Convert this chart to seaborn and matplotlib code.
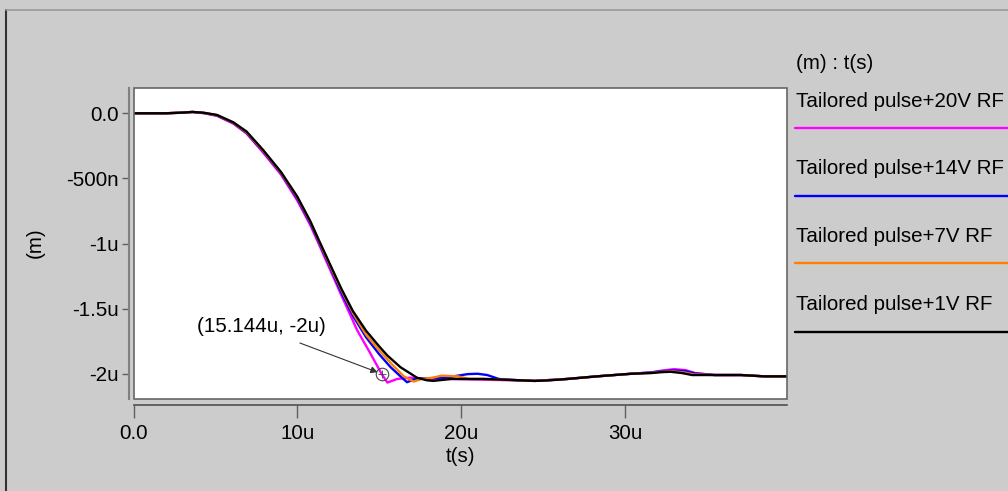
import matplotlib
matplotlib.use("Agg")
import matplotlib.pyplot as plt
from matplotlib.lines import Line2D
from matplotlib.patches import Rectangle
import pandas as pd
import seaborn as sns

# ---- data (time in microseconds, displacement in micrometres) ----
series_names = ["Tailored pulse+20V RF", "Tailored pulse+14V RF",
                "Tailored pulse+7V RF", "Tailored pulse+1V RF"]
series_colors = ["#ff00ff", "#0000ff", "#ff8000", "#000000"]

t_20v = [0, 2.0, 3.0, 3.6, 4.3, 5.1, 6.1, 6.9, 7.9, 9.0, 10.0, 10.8, 11.3, 12.0,
         12.7, 13.66, 14.4, 15.144, 15.5, 16.1, 16.9, 18.0, 19.4, 21.0, 23.0,
         24.5, 26.5, 28.3, 30.4, 31.6, 32.3, 33.0, 33.7, 34.3, 35.5, 37.1, 38.5, 39.9]
m_20v = [0, 0, 0.005, 0.01, 0.0, -0.02, -0.08, -0.155, -0.30, -0.47, -0.67, -0.86,
         -1.0, -1.2, -1.40, -1.667, -1.83, -2.0, -2.068, -2.04, -2.03, -2.04, -2.04,
         -2.045, -2.05, -2.055, -2.04, -2.02, -2.0, -1.99, -1.975, -1.965, -1.972,
         -1.995, -2.01, -2.01, -2.02, -2.02]

t_14v = [0, 2.0, 3.0, 3.6, 4.3, 5.1, 6.1, 6.9, 7.9, 9.0, 10.0, 10.8, 11.3, 12.0,
         12.7, 13.4, 14.2, 15.0, 15.7, 16.3, 16.7, 17.2, 18.0, 19.0, 19.8, 20.4,
         21.0, 21.6, 22.3, 23.5, 24.5, 26.5, 28.3, 30.4, 31.6, 32.3, 33.0, 33.7,
         34.3, 35.5, 37.1, 38.5, 39.9]
m_14v = [0, 0, 0.005, 0.01, 0.002, -0.017, -0.075, -0.15, -0.29, -0.46, -0.655,
         -0.845, -0.985, -1.18, -1.38, -1.555, -1.72, -1.85, -1.95, -2.02, -2.065,
         -2.04, -2.035, -2.03, -2.015, -2.003, -2.0, -2.01, -2.04, -2.05, -2.055,
         -2.04, -2.02, -2.0, -1.99, -1.98, -1.975, -1.98, -1.998, -2.01, -2.01,
         -2.02, -2.02]

t_7v = [0, 2.0, 3.0, 3.6, 4.3, 5.1, 6.1, 6.9, 7.9, 9.0, 10.0, 10.8, 11.3, 12.0,
        12.7, 13.4, 14.2, 15.0, 15.8, 16.5, 17.1, 17.6, 18.3, 18.8, 19.8, 20.5,
        21.4, 22.5, 23.5, 24.5, 26.5, 28.3, 30.4, 31.6, 32.3, 32.9, 33.6, 34.2,
        35.5, 37.1, 38.5, 39.9]
m_7v = [0, 0, 0.005, 0.01, 0.003, -0.015, -0.072, -0.145, -0.285, -0.455, -0.645,
        -0.835, -0.975, -1.17, -1.36, -1.535, -1.70, -1.82, -1.93, -2.02, -2.06,
        -2.04, -2.03, -2.015, -2.02, -2.04, -2.04, -2.045, -2.05, -2.055, -2.04,
        -2.02, -2.0, -1.993, -1.985, -1.982, -1.99, -2.005, -2.01, -2.01, -2.02,
        -2.02]

t_1v = [0, 2.0, 3.0, 3.6, 4.3, 5.1, 6.1, 6.9, 7.9, 9.0, 10.0, 10.8, 11.3, 12.0,
        12.7, 13.4, 14.2, 15.0, 15.5, 16.3, 17.3, 17.9, 18.3, 19.4, 20.5, 21.4,
        22.5, 23.5, 24.5, 25.5, 26.5, 28.3, 30.4, 31.6, 32.2, 32.8, 33.5, 34.1,
        35.5, 37.1, 38.5, 39.9]
m_1v = [0, 0, 0.005, 0.01, 0.004, -0.013, -0.07, -0.14, -0.28, -0.45, -0.64,
        -0.83, -0.97, -1.16, -1.35, -1.52, -1.67, -1.79, -1.86, -1.95, -2.03,
        -2.05, -2.055, -2.04, -2.04, -2.04, -2.045, -2.05, -2.055, -2.05, -2.04,
        -2.02, -2.0, -1.995, -1.988, -1.985, -1.995, -2.01, -2.01, -2.01, -2.02,
        -2.02]

x_ticks = [0, 10, 20, 30]
x_tick_labels = ["0.0", "10u", "20u", "30u"]
y_ticks = [0, -0.5, -1, -1.5, -2]
y_tick_labels = ["0.0", "-500n", "-1u", "-1.5u", "-2u"]

marker_t = 15.144
marker_m = -2.0
marker_text = "(15.144u, -2u)"

# ---- long-form table ----
frames = []
for name, t, m in zip(series_names, [t_20v, t_14v, t_7v, t_1v],
                      [m_20v, m_14v, m_7v, m_1v]):
    frames.append(pd.DataFrame({"t": t, "m": m, "series": name}))
df = pd.concat(frames, ignore_index=True)

# ---- styling ----
sns.set_style("white")
plt.rcParams["font.family"] = ["Liberation Sans", "DejaVu Sans"]
plt.rcParams["text.color"] = "black"
plt.rcParams["xtick.labelcolor"] = "black"
plt.rcParams["ytick.labelcolor"] = "black"
FS = 14.8
W, H = 1008, 491
BG = "#cccccc"

def fx(px):
    return px / W

def fy(py):
    return 1 - py / H

fig = plt.figure(figsize=(W / 100, H / 100), dpi=100, facecolor=BG)
ax = fig.add_axes([fx(133.5), fy(399), (787 - 133.5) / W, (399 - 88) / H])
ax.set_facecolor("white")

sns.lineplot(data=df, x="t", y="m", hue="series", hue_order=series_names,
             palette=series_colors, estimator=None, sort=False,
             linewidth=1.7, legend=False, ax=ax)

ax.set_xlim(0, 39.9)
ax.set_ylim(-2.194, 0.194)
ax.set_xticks(x_ticks)
ax.set_xticklabels(x_tick_labels)
ax.set_yticks(y_ticks)
ax.set_yticklabels(y_tick_labels)
ax.set_xlabel("")
ax.set_ylabel("")

for side in ["top", "right"]:
    ax.spines[side].set_visible(False)
ax.spines["left"].set_position(("outward", 3))
ax.spines["bottom"].set_position(("outward", 4.3))
ax.spines["left"].set_color("#808080")
ax.spines["left"].set_linewidth(1.5)
ax.spines["bottom"].set_color("#505050")
ax.spines["bottom"].set_linewidth(1.2)
ax.tick_params(axis="y", direction="out", length=4.7, width=1, color="#606060",
               pad=3, labelsize=FS, labelcolor="black", left=True)
ax.tick_params(axis="x", direction="out", length=9, width=1, color="#606060",
               pad=4.5, labelsize=FS, labelcolor="black", bottom=True)

# plot box border
ax.add_patch(Rectangle((0, 0), 1, 1, transform=ax.transAxes, fill=False,
                       edgecolor="#666666", linewidth=1.2, clip_on=False, zorder=5))

# marker with annotation
ax.plot([marker_t], [marker_m], marker="o", mfc="none", mec="#444444", ms=9,
        mew=0.8, zorder=6)
ax.plot([marker_t], [marker_m], marker="+", color="#444444", ms=6, mew=0.6,
        zorder=6)
ax.annotate("", xy=(marker_t, marker_m), xytext=(10.16, -1.764),
            arrowprops=dict(arrowstyle="-|>", color="#333333", lw=0.8,
                            mutation_scale=10, shrinkA=0, shrinkB=3))
ax.text(3.86, -1.637, marker_text, fontsize=FS, ha="left", va="center",
        color="black")

# axis titles
fig.text(fx(35), fy(243), "(m)", rotation=90, ha="center", va="center",
         fontsize=FS, color="black")
fig.text(fx(460), fy(456), "t(s)", ha="center", va="center", fontsize=FS,
         color="black")

# legend panel
fig.text(fx(796), fy(63.5), "(m) : t(s)", ha="left", va="center", fontsize=FS,
         color="black")
text_y = [101.7, 168.3, 236, 304.3]
line_y = [128.3, 196, 263.3, 332.3]
for name, color, ty, ly in zip(series_names, series_colors, text_y, line_y):
    fig.text(fx(796), fy(ty), name, ha="left", va="center", fontsize=FS,
             color="black")
    fig.add_artist(Line2D([fx(795), 1.0], [fy(ly), fy(ly)], color=color,
                          linewidth=1.7, transform=fig.transFigure))

# outer frame edges
fig.add_artist(Line2D([fx(6), fx(6)], [fy(10), 0], color="#333333", linewidth=1.5,
                      transform=fig.transFigure))
fig.add_artist(Line2D([fx(6), 1.0], [fy(10), fy(10)], color="#999999", linewidth=1.2,
                      transform=fig.transFigure))

fig.savefig("out.png", dpi=100, facecolor=BG)
